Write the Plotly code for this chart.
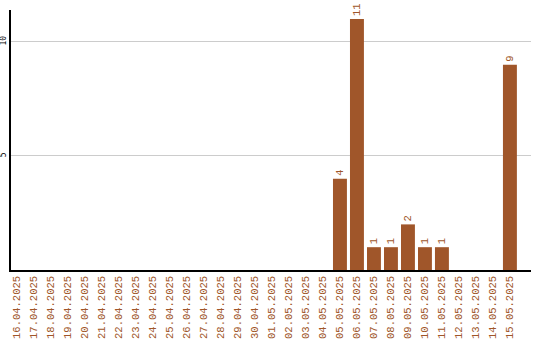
import plotly.graph_objects as go

dates = ["16.04.2025", "17.04.2025", "18.04.2025", "19.04.2025", "20.04.2025",
         "21.04.2025", "22.04.2025", "23.04.2025", "24.04.2025", "25.04.2025",
         "26.04.2025", "27.04.2025", "28.04.2025", "29.04.2025", "30.04.2025",
         "01.05.2025", "02.05.2025", "03.05.2025", "04.05.2025", "05.05.2025",
         "06.05.2025", "07.05.2025", "08.05.2025", "09.05.2025", "10.05.2025",
         "11.05.2025", "12.05.2025", "13.05.2025", "14.05.2025", "15.05.2025"]
counts = [0, 0, 0, 0, 0, 0, 0, 0, 0, 0,
          0, 0, 0, 0, 0, 0, 0, 0, 0, 4,
          11, 1, 1, 2, 1, 1, 0, 0, 0, 9]
y_ticks = [5, 10]

color = "#a0562a"
mono = "Liberation Mono"

fig = go.Figure(go.Bar(
    x=list(range(len(dates))),
    y=counts,
    width=0.82,
    marker=dict(color=color, line=dict(width=0)),
    text=[str(v) if v else "" for v in counts],
    textposition="outside",
    textangle=-90,
    textfont=dict(family=mono, size=10.5, color=color),
    cliponaxis=False,
))

fig.update_layout(
    width=540, height=340,
    margin=dict(l=11, r=9, t=10, b=70),
    plot_bgcolor="white", paper_bgcolor="white",
    showlegend=False,
    xaxis=dict(
        tickmode="array",
        tickvals=list(range(len(dates))),
        ticktext=dates,
        tickangle=-90,
        tickfont=dict(family=mono, size=10.5, color=color),
        range=[-0.353, 30.24],
        showgrid=False,
        showline=True, linecolor="black", linewidth=1.5,
        ticks="", zeroline=False,
        automargin=False,
    ),
    yaxis=dict(
        range=[0, 11.4],
        tickvals=y_ticks,
        tickangle=-90,
        tickfont=dict(family="DejaVu Sans Mono", size=8, color="black"),
        showgrid=True, gridcolor="#cccccc", gridwidth=1,
        showline=True, linecolor="black", linewidth=1.5,
        ticks="", zeroline=False,
        ticklabelstandoff=0,
        automargin=False,
    ),
)

fig.write_html("out.html")
